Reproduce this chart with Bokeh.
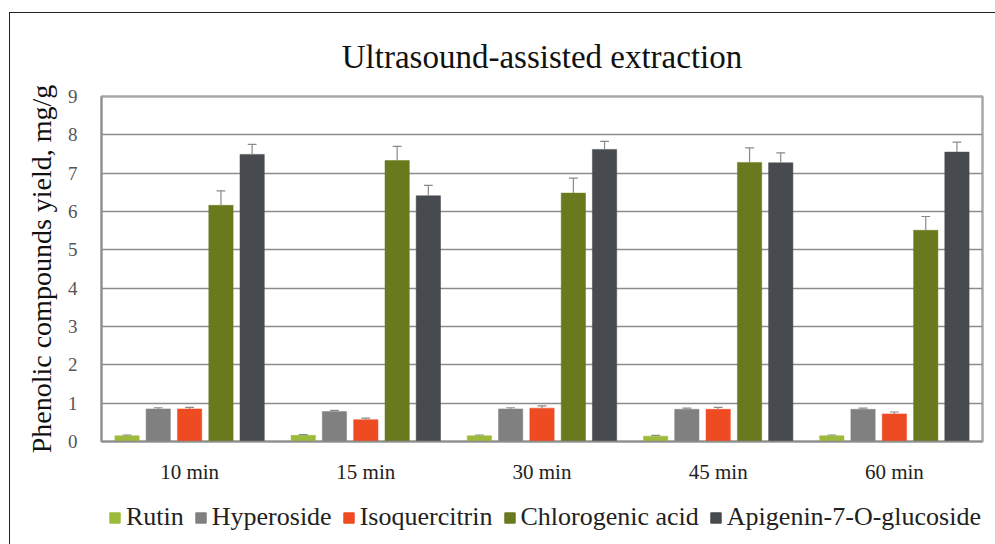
from bokeh.plotting import figure
from bokeh.models import ColumnDataSource, FactorRange, Range1d, Legend, LegendItem, FixedTicker
from bokeh.layouts import column
from bokeh.transform import dodge
from bokeh.embed import file_html
from bokeh.resources import INLINE

categories = ["10 min", "15 min", "30 min", "45 min", "60 min"]
series = ["Rutin", "Hyperoside", "Isoquercitrin", "Chlorogenic acid", "Apigenin-7-O-glucoside"]
rutin = [0.15, 0.16, 0.15, 0.14, 0.15]
hyperoside = [0.85, 0.78, 0.85, 0.84, 0.84]
isoquercitrin = [0.85, 0.57, 0.87, 0.84, 0.72]
chlorogenic = [6.16, 7.33, 6.48, 7.28, 5.51]
apigenin = [7.49, 6.41, 7.62, 7.27, 7.55]
rutin_err = [0.02, 0.02, 0.02, 0.02, 0.02]
hyperoside_err = [0.03, 0.03, 0.03, 0.03, 0.03]
isoquercitrin_err = [0.04, 0.04, 0.06, 0.05, 0.05]
chlorogenic_err = [0.38, 0.37, 0.39, 0.38, 0.36]
apigenin_err = [0.26, 0.27, 0.21, 0.26, 0.26]
y_ticks = [0, 1, 2, 3, 4, 5, 6, 7, 8, 9]

values = [rutin, hyperoside, isoquercitrin, chlorogenic, apigenin]
errors = [rutin_err, hyperoside_err, isoquercitrin_err, chlorogenic_err, apigenin_err]
colors = ["#9cbb3a", "#808080", "#ef4b22", "#687a1d", "#474a4e"]
offsets = [-0.355, -0.178, 0.0, 0.178, 0.355]
bar_w = 0.138
cap = 0.025

SERIF = "Liberation Serif"

p = figure(x_range=FactorRange(factors=categories, range_padding=0), y_range=(0, 9),
           width=986, height=476, output_backend="svg", toolbar_location=None,
           min_border_left=91, min_border_right=14, min_border_top=83, min_border_bottom=48)

p.title.text = "Ultrasound-assisted extraction"
p.title.text_font = SERIF
p.title.text_font_size = "33px"
p.title.text_font_style = "normal"
p.title.align = "center"
p.title.text_color = "#111111"
p.title.offset = -8
p.title.standoff = 43

# legend strip below the chart; its swatch renderers lie outside its (empty) view
leg = figure(x_range=FactorRange(factors=categories, range_padding=0), y_range=Range1d(20, 30),
             width=986, height=56, output_backend="svg", toolbar_location=None,
             x_axis_location=None, y_axis_location=None,
             min_border_left=91, min_border_right=14, min_border_top=0, min_border_bottom=0)
leg.grid.grid_line_color = None
leg.outline_line_color = None

items = []
for name, vals, errs, col, off in zip(series, values, errors, colors, offsets):
    src = ColumnDataSource(dict(cat=categories, top=vals,
                                up=[v + e for v, e in zip(vals, errs)]))
    p.vbar(x=dodge("cat", off, range=p.x_range), top="top", width=bar_w, bottom=0,
           source=src, fill_color=col, line_color=col, line_width=0.5)
    p.segment(x0=dodge("cat", off, range=p.x_range), y0="top",
              x1=dodge("cat", off, range=p.x_range), y1="up",
              source=src, line_color="#8a8a8a", line_width=1.2)
    p.segment(x0=dodge("cat", off - cap, range=p.x_range), y0="up",
              x1=dodge("cat", off + cap, range=p.x_range), y1="up",
              source=src, line_color="#8a8a8a", line_width=1.2)
    lr = leg.vbar(x=dodge("cat", off, range=leg.x_range), top="top", width=bar_w, bottom=0,
                  source=src, fill_color=col, line_color=col)
    items.append(LegendItem(label=name, renderers=[lr]))

p.xgrid.grid_line_color = None
p.ygrid.grid_line_color = "#8c8c8c"
p.ygrid.grid_line_width = 1.5
p.outline_line_color = "#a8a8a8"
p.outline_line_width = 2.5

p.yaxis.ticker = FixedTicker(ticks=y_ticks)
p.yaxis.axis_label = "Phenolic compounds yield, mg/g"
p.yaxis.axis_label_text_font = SERIF
p.yaxis.axis_label_text_font_size = "28px"
p.yaxis.axis_label_text_font_style = "normal"
p.yaxis.axis_label_text_color = "#111111"
p.yaxis.axis_label_standoff = 8
p.yaxis.major_label_text_font = SERIF
p.yaxis.major_label_text_font_size = "19px"
p.yaxis.major_label_text_color = "#555555"
p.yaxis.major_label_standoff = 24
p.yaxis.major_tick_out = 0
p.yaxis.major_tick_in = 0
p.yaxis.minor_tick_out = 0
p.yaxis.axis_line_color = "#8c8c8c"
p.yaxis.axis_line_width = 1.5

p.xaxis.major_label_text_font = SERIF
p.xaxis.major_label_text_font_size = "21px"
p.xaxis.major_label_text_color = "#222222"
p.xaxis.major_label_standoff = 18
p.xaxis.major_tick_out = 0
p.xaxis.major_tick_in = 0
p.xaxis.axis_line_color = "#8c8c8c"
p.xaxis.axis_line_width = 1.5

legend = Legend(items=items, orientation="horizontal", location=(7, 13),
                label_text_font=SERIF, label_text_font_size="26px", label_text_color="#222222",
                glyph_width=13, glyph_height=13, label_standoff=5, spacing=10,
                padding=0, margin=0, border_line_color=None, background_fill_alpha=0,
                label_height=28)
leg.add_layout(legend, "center")

layout = column(p, leg, spacing=0)
layout.margin = (12, 0, 0, 9)
layout.styles = {"border-top": "1.5px solid #222222", "border-left": "1.5px solid #222222"}

open("out.html", "w").write(file_html(layout, INLINE))
